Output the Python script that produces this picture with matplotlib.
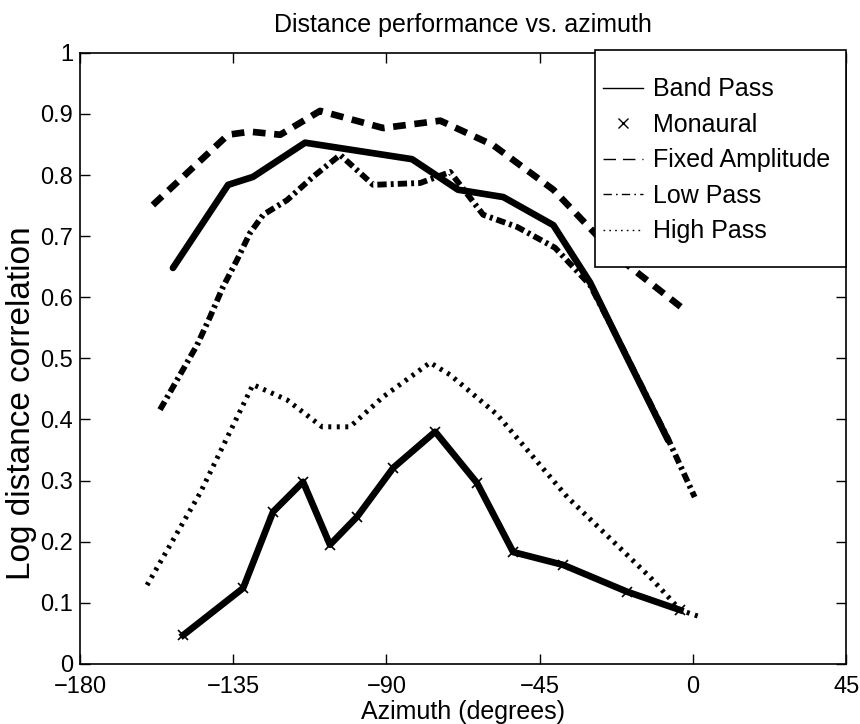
import matplotlib.pyplot as plt
from matplotlib.lines import Line2D
from matplotlib.patches import Rectangle

plt.rcParams['font.family'] = ['Liberation Sans', 'DejaVu Sans']

# Band Pass
bp_az = [-152.7, -136.5, -129.2, -113.9, -82.5, -69.0, -55.7, -41.0, -30.2, -20.5, -7.3]
bp_val = [0.648, 0.784, 0.797, 0.853, 0.826, 0.776, 0.764, 0.718, 0.624, 0.514, 0.366]

# Monaural
mo_az = [-149.7, -132.1, -123.3, -114.5, -106.6, -98.6, -88.0, -75.7, -63.4, -52.8, -38.1, -19.3, -3.7]
mo_val = [0.047, 0.124, 0.249, 0.298, 0.195, 0.241, 0.321, 0.380, 0.296, 0.183, 0.162, 0.118, 0.088]

# Fixed Amplitude
fa_az = [-158.6, -136.5, -130.1, -121.2, -109.5, -91.0, -74.2, -58.7, -41.0, -22.2, -1.7]
fa_val = [0.751, 0.866, 0.871, 0.866, 0.905, 0.877, 0.889, 0.849, 0.776, 0.666, 0.576]

# Low Pass
lp_az = [-156.5, -145.6, -141.8, -138.0, -133.9, -130.1, -126.2, -119.2, -111.6, -103.6,
         -93.9, -80.1, -71.3, -61.6, -51.6, -40.5, -30.2, -20.5, -7.3, 0.5]
lp_val = [0.416, 0.522, 0.568, 0.617, 0.661, 0.705, 0.735, 0.759, 0.797, 0.833,
          0.784, 0.787, 0.805, 0.735, 0.715, 0.681, 0.620, 0.515, 0.368, 0.273]

# High Pass
hp_az = [-160.3, -144.7, -129.2, -119.2, -108.9, -100.7, -91.0, -77.2, -71.3, -57.5,
         -36.9, -12.6, -3.7, 2.1]
hp_val = [0.129, 0.280, 0.457, 0.432, 0.388, 0.388, 0.437, 0.493, 0.473, 0.408,
          0.273, 0.142, 0.088, 0.077]

labels = ['Band Pass', 'Monaural', 'Fixed Amplitude', 'Low Pass', 'High Pass']

fig = plt.figure(figsize=(8.6, 7.24), dpi=100)
ax = fig.add_axes([0.093, 0.083, 0.891, 0.844])

ax.plot(bp_az, bp_val, color='black', lw=4.8, solid_capstyle='round')
ax.plot(mo_az, mo_val, color='black', lw=4.8, marker='x', ms=7, mew=1.2)
ax.plot(fa_az, fa_val, color='black', lw=4.8, dashes=(1.9, 1.3))
ax.plot(lp_az, lp_val, color='black', lw=4.2, dashes=(1.6, 0.7, 0.5, 0.7))
ax.plot(hp_az, hp_val, color='black', lw=3.6, dashes=(0.6, 1.1))

ax.set_xlim(-180, 45)
ax.set_ylim(0, 1)
ax.set_xticks([-180, -135, -90, -45, 0, 45])
ax.set_xticklabels(['\u2212180', '\u2212135', '\u221290', '\u221245', '0', '45'])
ax.set_yticks([0, 0.1, 0.2, 0.3, 0.4, 0.5, 0.6, 0.7, 0.8, 0.9, 1])
ax.set_yticklabels(['0', '0.1', '0.2', '0.3', '0.4', '0.5', '0.6', '0.7', '0.8', '0.9', '1'])
ax.tick_params(direction='in', length=7, width=1, top=True, right=True, labelsize=17)
ax.tick_params(axis='x', pad=9)
ax.tick_params(axis='y', pad=5)
for s in ax.spines.values():
    s.set_linewidth(1.2)

ax.set_title('Distance performance vs. azimuth', fontsize=18, pad=15)
ax.set_xlabel('Azimuth (degrees)', fontsize=18, labelpad=1)
ax.set_ylabel('Log distance correlation', fontsize=24)
ax.yaxis.set_label_coords(-0.056, 0.427)

# legend box drawn by hand so the padding matches
ax.add_patch(Rectangle((0.672, 0.65), 0.328, 0.354, transform=ax.transAxes,
                       facecolor='white', edgecolor='black', lw=1.2,
                       clip_on=False, zorder=5))

handles = [
    Line2D([], [], color='black', lw=1),
    Line2D([], [], color='black', lw=0, marker='x', ms=7, mew=1),
    Line2D([], [], color='black', lw=1, dashes=(9, 5)),
    Line2D([], [], color='black', lw=1, dashes=(6, 3, 1.2, 3)),
    Line2D([], [], color='black', lw=1, dashes=(1.2, 3)),
]
leg = ax.legend(handles, labels, loc='upper left', bbox_to_anchor=(0.683, 0.960),
                fontsize=18, frameon=False, borderpad=0, borderaxespad=0,
                handlelength=1.6, handletextpad=0.4, labelspacing=0.46)
leg.set_zorder(6)

fig.savefig('out.png', dpi=100)
